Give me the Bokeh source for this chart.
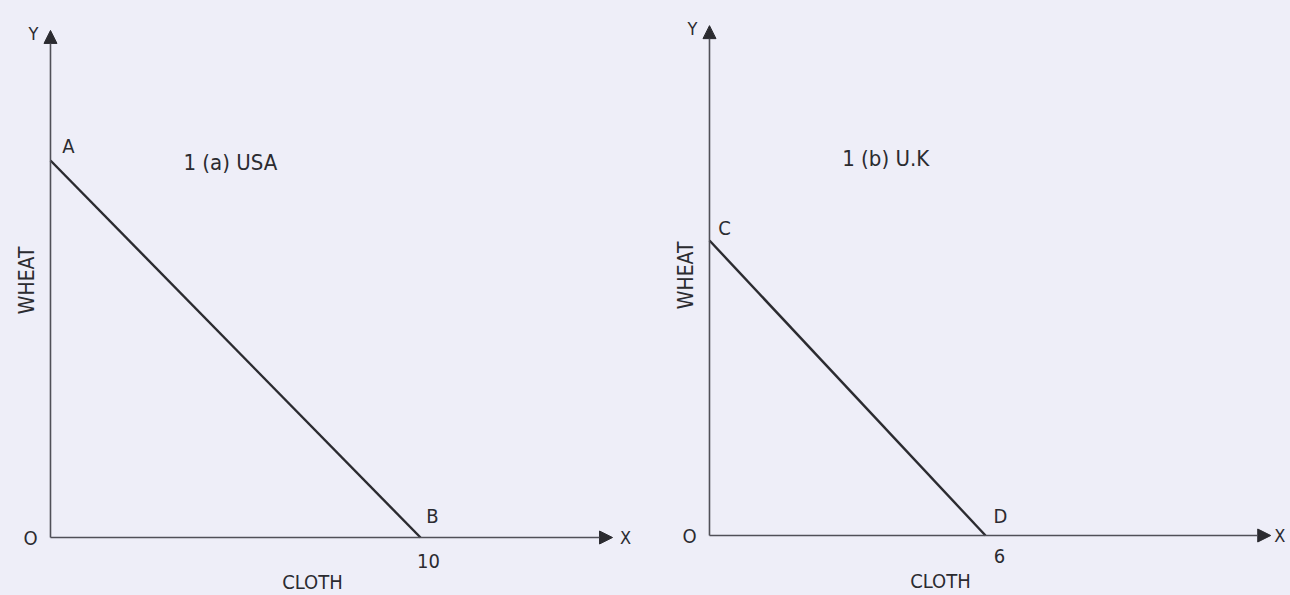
from bokeh.plotting import figure
from bokeh.layouts import row
from bokeh.models import Arrow, NormalHead
from bokeh.core.properties import value
from bokeh.embed import file_html
from bokeh.resources import INLINE
import math

# Production possibility frontiers: cloth on X, wheat on Y
usa_cloth = [0, 10]
usa_wheat = [10, 0]
uk_cloth = [0, 6]
uk_wheat = [6, 0]
usa_points = ["A", "B"]
uk_points = ["C", "D"]
usa_tick = ["10"]
uk_tick = ["6"]
titles = ["1 (a) USA", "1 (b) U.K"]

BG = "#eeeef8"
INK = "#2b2b30"
AXIS = "#505058"
FONT = value("'DejaVu Sans Condensed', 'Liberation Sans', sans-serif")


def txt(p, x, y, s, size, dx=0, dy=0, align="center", angle=0.0):
    p.text(x=[x], y=[y], text=[s], x_offset=dx, y_offset=dy, angle=angle,
           text_font=FONT, text_font_size=f"{size}px", text_color=INK,
           text_align=align, text_baseline="middle")


def panel(cloth, wheat, names, tick, title, xr, yr, x_tip, y_tip,
          title_xy, cloth_xy, wheat_y, lab_off, tick_off, x_lab_dx):
    p = figure(width=645, height=595, x_range=xr, y_range=yr,
               output_backend="svg", toolbar_location=None, min_border=0,
               background_fill_color=BG, border_fill_color=BG,
               outline_line_color=None)
    p.axis.visible = False
    p.grid.visible = False

    # axes with arrow heads
    head = dict(size=13, fill_color=INK, line_color=INK, line_width=1)
    p.add_layout(Arrow(end=NormalHead(**head), x_start=0, y_start=0,
                       x_end=0, y_end=y_tip, line_color=AXIS, line_width=1.6))
    p.add_layout(Arrow(end=NormalHead(**head), x_start=0, y_start=0,
                       x_end=x_tip, y_end=0, line_color=AXIS, line_width=1.6))

    # frontier
    p.line(cloth, wheat, line_color=INK, line_width=2.4)

    # point labels
    (ax, ay), (bx, by) = lab_off
    txt(p, cloth[0], wheat[0], names[0], 20, ax, ay)
    txt(p, cloth[1], wheat[1], names[1], 20, bx, by)
    txt(p, cloth[1], wheat[1], tick[0], 20, tick_off[0], tick_off[1])

    # axis letters and origin
    txt(p, 0, 0, "O", 20, -20, 0)
    txt(p, 0, y_tip, "Y", 18, -17, 3)
    txt(p, x_tip, 0, "X", 18, x_lab_dx, 0)

    # axis names and title
    txt(p, cloth_xy[0], cloth_xy[1], "CLOTH", 20)
    txt(p, 0, wheat_y, "WHEAT", 21, -23, 0, angle=math.pi / 2)
    txt(p, title_xy[0], title_xy[1], title, 22)
    return p


left = panel(usa_cloth, usa_wheat, usa_points, usa_tick, titles[0],
             (-1.351, 16.081), (-1.538, 14.244), 15.19, 13.45,
             (4.86, 9.95), (7.08, -1.19), 6.82,
             ((18, -15), (12, -22)), (8, 23), 13)

right = panel(uk_cloth, uk_wheat, uk_points, uk_tick, titles[1],
              (-1.391, 12.630), (-1.220, 10.881), 12.2, 10.37,
              (3.83, 7.67), (5.02, -0.92), 5.29,
              ((15, -12), (15, -20)), (14, 20), 9)

layout = row(left, right, spacing=0)
html = file_html(layout, INLINE, title="Production possibilities")
html = html.replace("<body>", f'<body style="margin:0;background:{BG};">')
open("out.html", "w").write(html)
